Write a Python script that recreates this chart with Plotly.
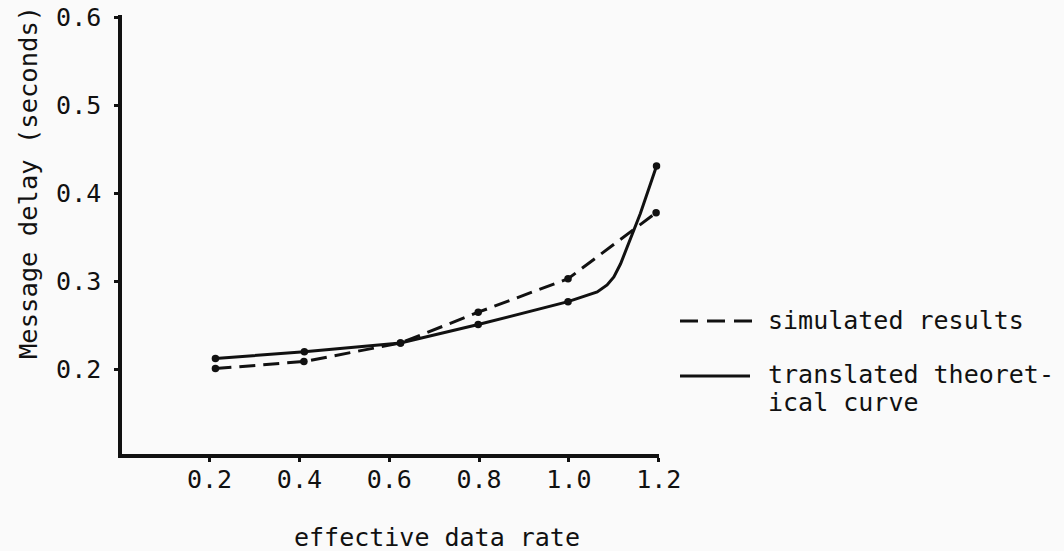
import plotly.graph_objects as go

# ---- data ----
sim_x = [0.213, 0.410, 0.625, 0.798, 0.998, 1.194]
sim_y = [0.201, 0.209, 0.230, 0.265, 0.303, 0.378]

theo_pts_x = [0.213, 0.411, 0.625, 0.798, 0.998, 1.195]
theo_pts_y = [0.2125, 0.220, 0.230, 0.251, 0.277, 0.431]

theo_curve_x = [0.213, 0.411, 0.625, 0.798, 0.998, 1.063, 1.085, 1.100, 1.115, 1.130, 1.159, 1.185, 1.195]
theo_curve_y = [0.2125, 0.220, 0.230, 0.251, 0.277, 0.288, 0.296, 0.305, 0.320, 0.339, 0.377, 0.416, 0.431]

x_ticks = [0.2, 0.4, 0.6, 0.8, 1.0, 1.2]
x_tick_labels = ["0.2", "0.4", "0.6", "0.8", "1.0", "1.2"]
y_ticks = [0.2, 0.3, 0.4, 0.5, 0.6]
y_tick_labels = ["0.2", "0.3", "0.4", "0.5", "0.6"]

legend_labels = ["simulated results", "translated theoret-", "ical curve"]
x_title = "effective data rate"
y_title = "Message delay (seconds)"

# ---- layout geometry (page pixels; body margin removed below) ----
W, H = 1064, 551
PLOT_L, PLOT_R, PLOT_T, PLOT_B = 122, 659, 15, 454   # page coords of plot area
L, T, R, B = PLOT_L, PLOT_T, W - PLOT_R, H - PLOT_B
FONT = "DejaVu Sans Mono"
INK = "#111111"
BG = "#fafafa"


def px(xp):
    return (xp - PLOT_L) / (PLOT_R - PLOT_L)


def py(yp):
    return 1 - (yp - PLOT_T) / (PLOT_B - PLOT_T)


fig = go.Figure()

fig.add_trace(go.Scatter(
    x=sim_x, y=sim_y, mode="lines+markers",
    line=dict(color=INK, width=3, dash="16px,8px"),
    marker=dict(color=INK, size=7.5),
    cliponaxis=False, showlegend=False, hoverinfo="skip",
))
fig.add_trace(go.Scatter(
    x=theo_curve_x, y=theo_curve_y, mode="lines",
    line=dict(color=INK, width=3),
    cliponaxis=False, showlegend=False, hoverinfo="skip",
))
fig.add_trace(go.Scatter(
    x=theo_pts_x, y=theo_pts_y, mode="markers",
    marker=dict(color=INK, size=7.5),
    cliponaxis=False, showlegend=False, hoverinfo="skip",
))

fig.update_xaxes(
    range=[0.005, 1.2005], tickvals=x_ticks, ticktext=x_tick_labels,
    showgrid=False, zeroline=False, showline=True, linecolor=INK, linewidth=3.5,
    ticks="outside", ticklen=4, tickwidth=3, tickcolor=INK,
    tickfont=dict(family=FONT, size=25, color=INK),
    ticklabelstandoff=-4, ticklabeloverflow="allow", automargin=False,
)
fig.update_yaxes(
    range=[0.1040, 0.6025], tickvals=y_ticks, ticktext=y_tick_labels,
    showgrid=False, zeroline=False, showline=True, linecolor=INK, linewidth=3.5,
    ticks="outside", ticklen=4, tickwidth=3, tickcolor=INK,
    tickfont=dict(family=FONT, size=25, color=INK),
    ticklabelstandoff=8, ticklabeloverflow="allow", automargin=False,
)

shapes = [
    dict(type="line", xref="paper", yref="paper",
         x0=px(680), x1=px(752), y0=py(321), y1=py(321),
         line=dict(color=INK, width=3, dash="18px,9px")),
    dict(type="line", xref="paper", yref="paper",
         x0=px(680), x1=px(750), y0=py(376), y1=py(376),
         line=dict(color=INK, width=3)),
]

annotations = [
    dict(text=y_title, x=px(28), y=py(183), xref="paper", yref="paper",
         textangle=-90, showarrow=False, xanchor="center", yanchor="middle",
         font=dict(family=FONT, size=25.5, color=INK)),
    dict(text=x_title, x=px(437), y=py(537), xref="paper", yref="paper",
         showarrow=False, xanchor="center", yanchor="middle",
         font=dict(family=FONT, size=25, color=INK)),
    dict(text=legend_labels[0], x=px(766), y=py(320), xref="paper", yref="paper",
         showarrow=False, xanchor="left", yanchor="middle",
         font=dict(family=FONT, size=25, color=INK)),
    dict(text=legend_labels[1], x=px(766), y=py(374), xref="paper", yref="paper",
         showarrow=False, xanchor="left", yanchor="middle",
         font=dict(family=FONT, size=25, color=INK)),
    dict(text=legend_labels[2], x=px(766), y=py(402), xref="paper", yref="paper",
         showarrow=False, xanchor="left", yanchor="middle",
         font=dict(family=FONT, size=25, color=INK)),
]

fig.update_layout(
    width=W, height=H,
    margin=dict(l=L, r=R, t=T, b=B, pad=0, autoexpand=False),
    paper_bgcolor=BG, plot_bgcolor=BG,
    shapes=shapes, annotations=annotations,
    showlegend=False, hovermode=False,
)

fig.write_html(
    "out.html",
    config={"displayModeBar": False},
    post_script="document.body.style.margin='0';document.body.style.background='" + BG + "';",
)
